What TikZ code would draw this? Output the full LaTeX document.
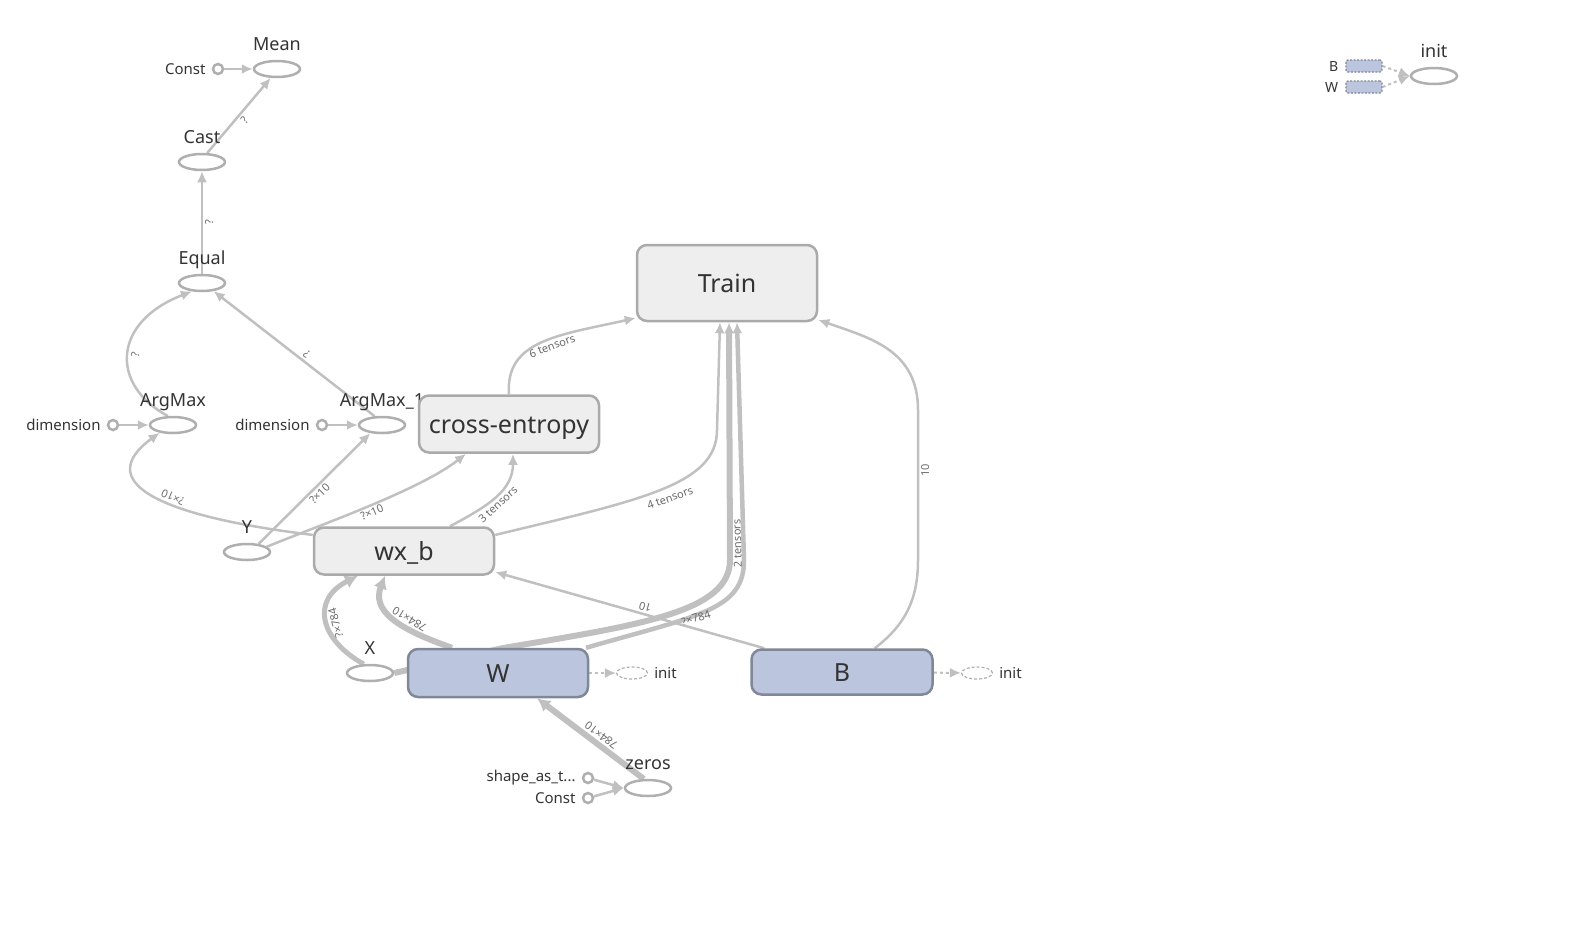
\documentclass[tikz,border=0pt]{standalone}
\usepackage{fontspec}
\setmainfont{Noto Sans}
\usetikzlibrary{arrows.meta, shapes.geometric, backgrounds}

\definecolor{edgegray}{RGB}{192,192,192}
\definecolor{ringgray}{RGB}{175,175,175}
\definecolor{boxline}{RGB}{170,170,170}
\definecolor{boxfill}{RGB}{238,238,238}
\definecolor{varfill}{RGB}{187,197,221}
\definecolor{varline}{RGB}{128,136,152}
\definecolor{inktext}{RGB}{51,51,51}
\definecolor{lbltext}{RGB}{105,105,105}

\tikzset{
  opnode/.style={ellipse, draw=ringgray, fill=white, line width=2.5pt, minimum width=46pt, minimum height=16pt, inner sep=0pt},
  ringnode/.style={circle, draw=ringgray, fill=white, line width=2.5pt, minimum size=10pt, inner sep=0pt},
  namelbl/.style={text depth=0pt, inner sep=0pt, yshift=9pt, text=inktext, font=\fontsize{18}{20}\selectfont},
  leftlbl/.style={inner sep=0pt, xshift=-6pt, text=inktext, font=\fontsize{15}{17}\selectfont},
  rightlbl/.style={leftlbl, xshift=12pt},
  groupbox/.style={rectangle, rounded corners=10pt, draw=boxline, fill=boxfill, line width=2.5pt, text=inktext, font=\fontsize{25}{30}\selectfont, text height=18pt, text depth=0pt, minimum width=180pt, inner sep=0pt},
  varbox/.style={groupbox, draw=varline, fill=varfill},
  initghost/.style={ellipse, draw=ringgray, dash pattern=on 3pt off 2pt, line width=1.2pt, minimum width=31pt, minimum height=12pt, inner sep=0pt},
  stubbox/.style={rectangle, rounded corners=2pt, draw=varline, dash pattern=on 2pt off 1.5pt, fill=varfill, line width=1.2pt, minimum width=36pt, minimum height=12pt, inner sep=0pt},
  flow/.style={draw=edgegray, line width=2.5pt, -{Latex[length=11pt,width=10pt]}},
  heavyflow/.style={flow, line width=6pt, -{Latex[length=13pt,width=14pt]}},
  ctrlflow/.style={draw=edgegray, line width=2pt, dash pattern=on 3pt off 3pt, -{Latex[length=11pt,width=10pt]}},
  elabel/.style={font=\fontsize{11}{12}\selectfont, text=lbltext, inner sep=2pt, sloped, allow upside down, below},
}

\begin{document}
\begin{tikzpicture}[x=1pt, y=-1pt]
  \useasboundingbox (0,0) rectangle (1578,927);

  % accuracy branch
  \node[opnode, label={[namelbl]above:Mean}] (mean) at (277,69) {};
  \node[ringnode, label={[leftlbl]left:Const}] (meanconst) at (218,69) {};
  \node[opnode, label={[namelbl]above:Cast}] (cast) at (202,162) {};
  \node[opnode, label={[namelbl]above:Equal}] (equal) at (202,283) {};
  \node[opnode, label={[namelbl]above:ArgMax}] (argmax) at (173,425) {};
  \node[ringnode, label={[leftlbl]left:dimension}] (dimA) at (113,425) {};
  \node[opnode, label={[namelbl]above:ArgMax\_1}] (argmaxb) at (382,425) {};
  \node[ringnode, label={[leftlbl]left:dimension}] (dimB) at (322,425) {};

  % inputs
  \node[opnode, label={[namelbl]above:Y}] (y) at (247,552) {};
  \node[opnode, label={[namelbl]above:X}] (x) at (370,673) {};
  \node[opnode, label={[namelbl]above:zeros}] (zeros) at (648,788) {};
  \node[ringnode, label={[leftlbl]left:shape\_as\_t...}] (shapein) at (588,778) {};
  \node[ringnode, label={[leftlbl]left:Const}] (zconst) at (588,798) {};

  % group boxes
  \node[groupbox, minimum height=76pt] (train) at (727,283) {Train};
  \node[groupbox, minimum height=57pt] (xent) at (509,424) {cross-entropy};
  \node[groupbox, minimum height=47pt] (wxb) at (404,551) {wx\_b};
  \node[varbox, minimum height=48pt] (w) at (498,673) {W};
  \node[varbox, minimum height=45pt, minimum width=181pt] (b) at (842,672) {B};
  \node[initghost, label={[rightlbl]right:init}] (winit) at (632,673) {};
  \node[initghost, label={[rightlbl]right:init}] (binit) at (977,673) {};

  % init op
  \node[opnode, label={[namelbl]above:init}] (init) at (1434,76) {};
  \node[stubbox, label={[leftlbl, xshift=-1pt, font=\fontsize{14}{16}\selectfont]left:B}] (bstub) at (1364,66) {};
  \node[stubbox, label={[leftlbl, xshift=-1pt, font=\fontsize{14}{16}\selectfont]left:W}] (wstub) at (1364,87) {};

  \begin{pgfonlayer}{background}
    % accuracy edges
    \draw[flow] (meanconst) -- (mean);
    \draw[flow] (cast.60) -- (mean.235) node[elabel, pos=.5] {?};
    \draw[flow] (equal) -- (cast) node[elabel, pos=.5] {?};
    \draw[flow] (argmax.120) .. controls (110,385) and (112,322) .. (equal.220) node[elabel, pos=.5] {?};
    \draw[flow] (argmaxb.130) -- (equal.-35) node[elabel, pos=.45] {?};
    \draw[flow] (dimA) -- (argmax);
    \draw[flow] (dimB) -- (argmaxb);
    \draw[flow] (y.35) -- (argmaxb.215) node[elabel, pos=.5] {?×10};
    \draw[flow] (y.15) .. controls (320,525) and (420,490) .. ([xshift=-43pt]xent.south) node[elabel, pos=.5] {?×10};
    \draw[flow] (wxb.170) .. controls (150,515) and (95,480) .. (argmax.210) node[elabel, pos=.4] {?×10};

    % into cross-entropy and Train
    \draw[flow] ([xshift=46pt]wxb.north) .. controls (490,505) and (513,490) .. ([xshift=4pt]xent.south) node[elabel, pos=.45] {3 tensors};
    \draw[flow] (xent.north) .. controls (505,340) and (560,335) .. (train.201) node[elabel, pos=.55] {6 tensors};
    \draw[flow] (wxb.10) .. controls (640,500) and (717,485) .. (717,430) -- ([xshift=-7pt]train.south);
    \node[font=\fontsize{11}{12}\selectfont, text=lbltext, rotate=20] (fourlbl) at (670,498) {4 tensors};
    \draw[heavyflow, -{Latex[length=11pt,width=10pt]}] (x.east) -- (503,648) .. controls (640,625) and (730,612) .. (730,560) -- ([xshift=2pt]train.south);
    \draw[flow, line width=4.5pt] (w.16) .. controls (700,615) and (744,610) .. (744,560) -- ([xshift=10pt]train.south) node[elabel, above, inner sep=0pt, pos=.07] {2 tensors};
    \node[font=\fontsize{11}{12}\selectfont, text=lbltext, rotate=17] (xlbl) at (696,618) {?×784};
    \draw[flow] (b.36) .. controls (905,625) and (918,600) .. (918,560) -- (918,410) node[elabel, pos=.6] {10} .. controls (918,350) and (870,338) .. (train.-22);

    % into wx_b
    \draw[flow] (b.163) -- (wxb.-13) node[elabel, pos=.45] {10};
    \draw[heavyflow] ([xshift=-46pt]w.north) .. controls (395,628) and (372,610) .. ([xshift=-19pt]wxb.south) node[elabel, pos=.35] {784×10};
    \draw[heavyflow, line width=5pt] (x.125) .. controls (320,640) and (310,600) .. ([xshift=-46pt]wxb.south) node[elabel, pos=.45] {?×784};

    % variable init
    \draw[heavyflow] (zeros.115) -- ([xshift=39pt]w.south) node[elabel, pos=.45] {784×10};
    \draw[flow] (shapein) -- (zeros.180);
    \draw[flow] (zconst) -- (zeros.180);
    \draw[ctrlflow] (w) -- (winit);
    \draw[ctrlflow] (b) -- (binit);
    \draw[ctrlflow] (bstub.east) -- (init.west);
    \draw[ctrlflow] (wstub.east) -- (init.west);
  \end{pgfonlayer}
\end{tikzpicture}
\end{document}
